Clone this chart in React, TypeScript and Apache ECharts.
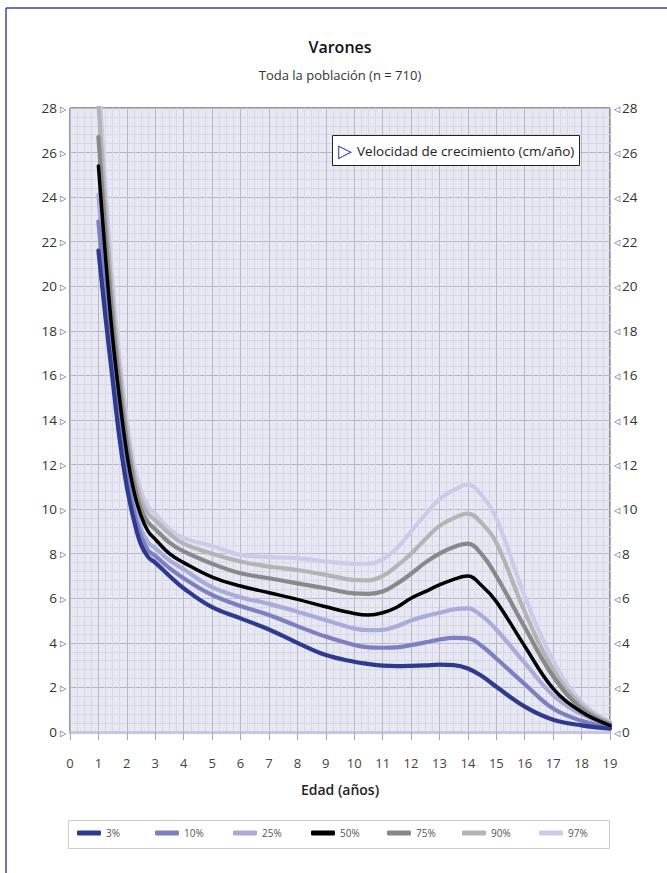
import React, { useEffect, useRef } from 'react';
import * as echarts from 'echarts';

const ages = [1, 1.25, 1.5, 1.75, 2, 2.25, 2.5, 2.75, 3, 3.5, 4, 5, 6, 7, 8, 9, 10, 10.5, 11, 11.5, 12, 12.5, 13, 13.5, 14, 14.5, 15, 16, 17, 18, 19];
const p3 = [21.6, 18.6, 15.8, 13.1, 11.0, 9.5, 8.4, 7.85, 7.6, 7.0, 6.45, 5.6, 5.1, 4.6, 4.0, 3.45, 3.15, 3.05, 2.98, 2.96, 2.97, 2.99, 3.02, 3.0, 2.85, 2.5, 2.03, 1.14, 0.55, 0.3, 0.15];
const p10 = [22.9, 19.6, 16.6, 13.7, 11.5, 9.9, 8.8, 8.15, 7.9, 7.35, 6.9, 6.15, 5.65, 5.25, 4.75, 4.28, 3.9, 3.8, 3.78, 3.8, 3.9, 4.02, 4.15, 4.22, 4.2, 3.85, 3.3, 2.15, 1.05, 0.5, 0.2];
const p25 = [24.1, 20.5, 17.2, 14.2, 11.9, 10.2, 9.1, 8.5, 8.25, 7.7, 7.3, 6.5, 6.05, 5.75, 5.4, 5.02, 4.65, 4.57, 4.58, 4.75, 5.0, 5.2, 5.35, 5.5, 5.55, 5.2, 4.6, 3.1, 1.65, 0.8, 0.3];
const p50 = [25.4, 21.3, 17.7, 14.9, 12.5, 10.8, 9.7, 9.0, 8.65, 8.0, 7.6, 6.95, 6.55, 6.25, 5.95, 5.62, 5.32, 5.25, 5.35, 5.6, 6.0, 6.3, 6.6, 6.85, 7.0, 6.55, 5.85, 3.85, 1.95, 0.9, 0.3];
const p75 = [26.7, 22.3, 18.5, 15.5, 13.0, 11.2, 10.0, 9.4, 9.1, 8.5, 8.1, 7.55, 7.12, 6.9, 6.67, 6.45, 6.22, 6.2, 6.3, 6.65, 7.1, 7.6, 8.0, 8.3, 8.45, 7.95, 7.0, 4.7, 2.5, 1.05, 0.35];
const p90 = [28.3, 23.4, 19.3, 16.1, 13.5, 11.6, 10.4, 9.8, 9.5, 8.9, 8.45, 8.0, 7.65, 7.42, 7.27, 7.05, 6.82, 6.8, 7.0, 7.45, 8.0, 8.65, 9.25, 9.6, 9.8, 9.35, 8.5, 5.4, 2.8, 1.2, 0.4];
const p97 = [29.6, 24.4, 20.1, 16.7, 14.0, 12.0, 10.8, 10.1, 9.8, 9.1, 8.7, 8.35, 7.95, 7.85, 7.8, 7.65, 7.55, 7.55, 7.75, 8.25, 9.0, 9.75, 10.45, 10.85, 11.1, 10.6, 9.6, 6.1, 3.2, 1.35, 0.45];

const names = ['3%', '10%', '25%', '50%', '75%', '90%', '97%'];
const values = [p3, p10, p25, p50, p75, p90, p97];
const colors = ['#2e3a8e', '#7c80c1', '#a9abd9', '#000000', '#898989', '#b4b4b4', '#cbcbea'];
const drawOrder = [6, 5, 4, 2, 1, 0, 3];

const titleText = 'Varones';
const subtitleText = 'Toda la población (n = 710)';
const boxText = 'Velocidad de crecimiento (cm/año)';
const xName = 'Edad (años)';

const FONT = "'Open Sans', sans-serif";

export default function App() {
  const ref = useRef<HTMLDivElement>(null);
  useEffect(() => {
    if (!ref.current) return;
    const chart = echarts.init(ref.current, null, { renderer: 'svg' });
    const legendLeft = [77, 155, 233, 311, 387, 462, 539];
    const option: any = {
      animation: false,
      backgroundColor: '#ffffff',
      textStyle: { fontFamily: FONT },
      grid: {
        left: 70, right: 57, top: 108, bottom: 141,
        show: true, backgroundColor: '#e8e8f5', borderColor: '#333', borderWidth: 1,
      },
      xAxis: {
        type: 'value', min: 0, max: 19, interval: 1, offset: 11,
        axisLine: { show: true, lineStyle: { color: '#c4c6e6', width: 3 } },
        axisTick: { show: true, length: 8, lineStyle: { color: '#aaaaaa' } },
        axisLabel: { fontSize: 13, color: '#444', margin: 13, fontFamily: FONT },
        splitLine: { show: true, lineStyle: { color: '#b9b9c6', width: 1 } },
        minorTick: { show: false, splitNumber: 4 },
        minorSplitLine: { show: true, lineStyle: { color: '#d8d8e5', width: 1 } },
      },
      yAxis: [
        {
          type: 'value', min: 0, max: 28, interval: 2, position: 'left',
          axisLine: { show: false }, axisTick: { show: false },
          axisLabel: {
            margin: 4,
            formatter: (v: number) => `{v|${v}} {t|▷}`,
            rich: {
              v: { fontSize: 13.5, color: '#333', fontFamily: FONT },
              t: { fontSize: 8, color: '#2b3a9a' },
            },
          },
          splitLine: { show: true, lineStyle: { color: '#b9b9c6', width: 1 } },
          minorTick: { show: false, splitNumber: 5 },
          minorSplitLine: { show: true, lineStyle: { color: '#d8d8e5', width: 1 } },
        },
        {
          type: 'value', min: 0, max: 28, interval: 2, position: 'right',
          axisLine: { show: false }, axisTick: { show: false },
          axisLabel: {
            margin: 4,
            formatter: (v: number) => `{t|◁}{v|${v}}`,
            rich: {
              v: { fontSize: 13.5, color: '#333', fontFamily: FONT },
              t: { fontSize: 8, color: '#2b3a9a', padding: [0, 2, 0, 0] },
            },
          },
          splitLine: { show: false },
        },
      ],
      legend: names.map((n, i) => ({
        data: [n], left: legendLeft[i], top: 828, icon: 'roundRect',
        itemWidth: 24, itemHeight: 5, itemGap: 0, padding: 0, selectedMode: false,
        textStyle: { fontSize: 10, color: '#555', fontFamily: FONT },
      })),
      series: drawOrder.map((i) => ({
        name: names[i], type: 'line', xAxisIndex: 0, yAxisIndex: 0,
        data: ages.map((a, k) => [a, values[i][k]]),
        showSymbol: false, smooth: 0.4, clip: true,
        color: colors[i],
        itemStyle: { color: colors[i] },
        lineStyle: { color: colors[i], width: i === 3 ? 3.5 : 4.2, cap: 'round', join: 'round' },
      })),
      graphic: [
        { type: 'line', shape: { x1: 6, y1: 8, x2: 667, y2: 8 }, style: { stroke: '#3a479b', lineWidth: 1.5 } },
        { type: 'line', shape: { x1: 6, y1: 8, x2: 6, y2: 873 }, style: { stroke: '#3a479b', lineWidth: 1.5 } },
        { type: 'text', x: 340, y: 47, style: { text: titleText, fontSize: 16, fontWeight: 600, fill: '#111', align: 'center', verticalAlign: 'middle', fontFamily: FONT } },
        { type: 'text', x: 340, y: 75, style: { text: subtitleText, fontSize: 13, fill: '#333', align: 'center', verticalAlign: 'middle', fontFamily: FONT } },
        { type: 'rect', shape: { x: 332.5, y: 135.5, width: 247, height: 30 }, style: { fill: '#ffffff', stroke: '#222', lineWidth: 1 }, z: 100 },
        { type: 'text', x: 338, y: 151, style: { text: '▷', fontSize: 18, fill: '#2b3a9a', verticalAlign: 'middle' }, z: 101 },
        { type: 'text', x: 357, y: 151, style: { text: boxText, fontSize: 13.5, fill: '#222', verticalAlign: 'middle', fontFamily: FONT }, z: 101 },
        { type: 'text', x: 340, y: 789, style: { text: xName, fontSize: 14, fontWeight: 600, fill: '#222', align: 'center', verticalAlign: 'middle', fontFamily: FONT } },
        { type: 'rect', shape: { x: 68.5, y: 820.5, width: 541, height: 28 }, style: { fill: 'none', stroke: '#cccccc', lineWidth: 1 } },
      ],
    };
    chart.setOption(option);
    return () => chart.dispose();
  }, []);
  return <div ref={ref} style={{ position: 'fixed', left: 0, top: 0, width: 667, height: 873 }} />;
}
